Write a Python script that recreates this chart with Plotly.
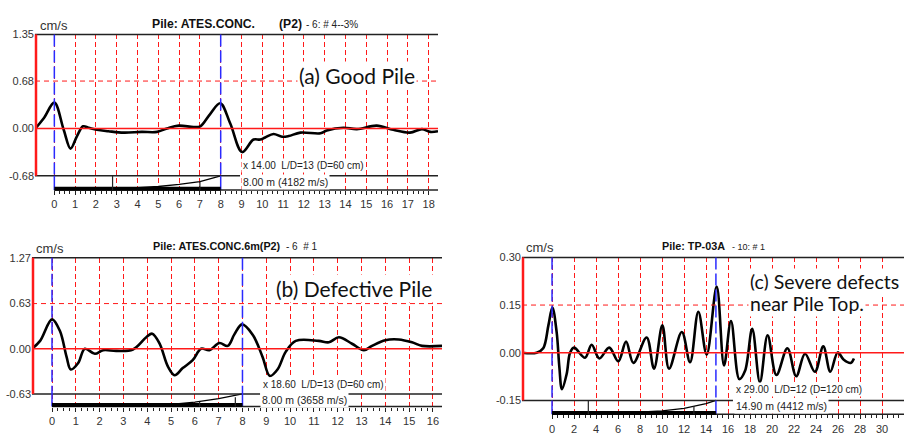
import numpy as np
import plotly.graph_objects as go

W, H = 904, 435

# ---------------- data ----------------
# (a) Good Pile : distance (m) vs velocity (cm/s)
a_dist = [-0.91, -0.5, 0.0, 0.45, 0.78, 1.09, 1.38, 1.65, 2.05, 2.6, 3.33, 4.2, 4.94,
          5.42, 5.98, 6.7, 7.02, 7.5, 7.98, 8.46, 9.03, 9.58, 9.9, 10.14, 10.54, 10.95,
          11.27, 11.83, 12.8, 13.1, 13.9, 14.55, 15.5, 16.3, 17.1, 17.68, 18.08, 18.45]
a_vel = [0.0, 0.15, 0.37, -0.02, -0.29, -0.11, 0.03, 0.01, -0.02, -0.04, -0.06, -0.05, -0.05,
         0.0, 0.04, 0.02, 0.03, 0.21, 0.36, 0.07, -0.34, -0.16, -0.16, -0.13, -0.08, -0.12,
         -0.11, -0.06, -0.07, -0.03, 0.01, -0.01, 0.04, -0.02, -0.06, -0.01, -0.05, -0.04]

# (b) Defective Pile
b_dist = [-0.84, -0.5, 0.0, 0.33, 0.61, 0.79, 1.1, 1.38, 1.8, 2.15, 2.7, 3.4, 3.96, 4.21,
          4.52, 4.87, 5.15, 5.49, 5.91, 6.26, 6.61, 7.03, 7.38, 7.66, 7.98, 8.42, 8.84,
          9.15, 9.47, 9.82, 10.24, 11.2, 11.63, 12.05, 12.6, 13.1, 13.44, 14.0, 14.56,
          15.12, 15.54, 16.38]
b_vel = [0.0, 0.11, 0.41, 0.25, -0.11, -0.29, -0.20, 0.0, -0.07, -0.02, -0.03, -0.01, 0.16,
         0.21, 0.07, -0.25, -0.37, -0.27, -0.16, 0.0, -0.02, 0.08, 0.04, 0.20, 0.34, 0.20,
         -0.11, -0.38, -0.29, -0.04, 0.11, 0.11, 0.09, 0.16, 0.07, -0.02, 0.04, 0.12, 0.13,
         0.09, 0.04, 0.04]

# (c) Severe defects near pile top
c_dist = [-2.73, -1.4, -0.8, -0.33, 0.03, 0.42, 0.67, 0.9, 1.33, 1.64, 2.0, 3.0, 3.6, 4.3,
          5.2, 6.03, 6.73, 7.4, 8.6, 9.27, 10.03, 10.64, 11.8, 12.55, 13.3, 14.06, 14.97,
          15.64, 16.27, 17.03, 17.55, 18.2, 18.9, 19.6, 20.4, 21.4, 22.2, 23.0, 23.9,
          24.66, 25.3, 25.97, 26.5, 27.15, 27.45]
c_vel = [0.0, 0.0, 0.014, 0.086, 0.142, 0.065, -0.047, -0.115, -0.067, 0.0, 0.016, -0.016,
         0.025, -0.018, 0.016, -0.027, 0.035, -0.032, 0.048, -0.05, 0.086, -0.05, 0.065,
         -0.03, 0.129, -0.006, 0.208, -0.04, 0.10, -0.083, -0.057, 0.075, -0.093, 0.055,
         -0.07, 0.014, -0.074, -0.003, -0.06, 0.02, -0.06, 0.001, -0.021, -0.032, -0.018]

# amplification curves (bottom strip)
a_amp_x = [3.2, 4.0, 5.0, 6.0, 7.0, 8.0]
a_amp_y = [-0.865, -0.853, -0.834, -0.805, -0.764, -0.68]
b_amp_x = [2.6, 4.0, 5.0, 6.0, 7.0, 8.0]
b_amp_y = [-0.80, -0.79, -0.776, -0.745, -0.695, -0.63]
c_amp_x = [4.5, 8.0, 10.0, 12.0, 14.0, 14.9]
c_amp_y = [-0.193, -0.188, -0.183, -0.175, -0.160, -0.15]

# tick labels
a_xticks = list(range(0, 19))
b_xticks = list(range(0, 17))
c_xticks = list(range(0, 33, 2))
a_yticks = [1.35, 0.68, 0.00, -0.68]
b_yticks = [1.27, 0.63, 0.00, -0.63]
c_yticks = [0.30, 0.15, 0.00, -0.15]
a_ylabels = ["1.35", "0.68", "0.00", "-0.68"]
b_ylabels = ["1.27", "0.63", "0.00", "-0.63"]
c_ylabels = ["0.30", "0.15", "0.00", "-0.15"]

# ---------------- panels ----------------
panels = [
    dict(x=a_dist, y=a_vel, px=(35, 438), py=(29, 188), xr=(-0.93, 18.45), yr=(-0.886, 1.35),
         yt=a_yticks, yl=a_ylabels, xt=a_xticks, minor=0.25, L=8.0, gap=(8.93, 13.16),
         ax=a_amp_x, ay=a_amp_y, vt=[(2.8, -0.68), (7.0, -0.764)]),
    dict(x=b_dist, y=b_vel, px=(32, 442), py=(257, 409), xr=(-0.84, 16.38), yr=(-0.806, 1.27),
         yt=b_yticks, yl=b_ylabels, xt=b_xticks, minor=0.25, L=8.0, gap=(8.74, 12.1),
         ax=b_amp_x, ay=b_amp_y, vt=[(7.7, -0.675), (6.2, -0.74)]),
    dict(x=c_dist, y=c_vel, px=(522, 904), py=(256.7, 417), xr=(-2.73, 32.0), yr=(-0.194, 0.30),
         yt=c_yticks, yl=c_ylabels, xt=c_xticks, minor=0.5, L=14.9, gap=(16.45, 23.9),
         ax=c_amp_x, ay=c_amp_y, vt=[(3.3, -0.15), (12.9, -0.168)]),
]

fig = go.Figure()
shapes = []
layout = {}
RED = "#ff1a1a"
BLUE = "#2a2aff"
INK = "#222222"

for i, p in enumerate(panels, start=1):
    sfx = "" if i == 1 else str(i)
    x0p, x1p = p["px"][0] / W, p["px"][1] / W
    y0p, y1p = 1 - p["py"][1] / H, 1 - p["py"][0] / H
    xmin, xmax = p["xr"]
    ymin, ymax = p["yr"]

    def X(v, xmin=xmin, xmax=xmax, x0p=x0p, x1p=x1p):
        return x0p + (v - xmin) / (xmax - xmin) * (x1p - x0p)

    def Y(v, ymin=ymin, ymax=ymax, y0p=y0p, y1p=y1p):
        return y0p + (v - ymin) / (ymax - ymin) * (y1p - y0p)

    ytop, ymid, _, ybot = p["yt"]

    def line(xa, ya, xb, yb, color, width, dash="solid"):
        shapes.append(dict(type="line", xref="paper", yref="paper", x0=xa, y0=ya, x1=xb, y1=yb,
                           line=dict(color=color, width=width, dash=dash), layer="above"))

    # horizontal references
    line(X(xmin), Y(ymid), X(xmax), Y(ymid), RED, 1, "5px,4px")
    line(X(xmin), Y(0), X(xmax), Y(0), RED, 1.5)
    line(X(xmin), Y(ytop), X(xmax), Y(ytop), INK, 1.5)
    line(X(xmin), Y(ybot), X(p["gap"][0]), Y(ybot), INK, 1.5)
    line(X(p["gap"][1]), Y(ybot), X(xmax), Y(ybot), INK, 1.5)
    # red vertical axis
    line(X(xmin) + 1 / W, Y(ybot), X(xmin) + 1 / W, Y(ytop), RED, 2.5)
    # blue markers at pile top and toe
    for xv in (0.0, p["L"]):
        line(X(xv), Y(ytop), X(xv), Y(ybot), BLUE, 1.5, "12px,4px")
        line(X(xv), Y(ybot), X(xv), Y(ymin), BLUE, 1.5)
    # bottom axis and thick pile bar
    line(X(0), Y(ymin), X(xmax), Y(ymin), INK, 1.5)
    line(X(0), Y(ymin) + 1.5 / H, X(p["L"]), Y(ymin) + 1.5 / H, "#000000", 4)
    # little vertical marks
    for xv, yv in p["vt"]:
        line(X(xv), Y(yv), X(xv), Y(ymin), INK, 1.2)

    fig.add_trace(go.Scatter(x=p["ax"], y=p["ay"], mode="lines", xaxis="x" + sfx, yaxis="y" + sfx,
                             line=dict(color="#000000", width=1.3), showlegend=False,
                             hoverinfo="skip"))
    fig.add_trace(go.Scatter(x=p["x"], y=p["y"], mode="lines", xaxis="x" + sfx, yaxis="y" + sfx,
                             line=dict(color="#000000", width=2.6, shape="spline", smoothing=1.0),
                             showlegend=False))

    minor_vals = [float(v) for v in np.arange(0, p["xt"][-1] + 1e-9, p["minor"])]
    layout["xaxis" + sfx] = dict(
        domain=[x0p, x1p], range=[xmin, xmax], anchor="y" + sfx,
        tickmode="array", tickvals=p["xt"], ticktext=[str(v) for v in p["xt"]],
        showgrid=True, gridcolor=RED, griddash="5px,3px", gridwidth=1,
        zeroline=False, showline=False, ticks="outside", ticklen=4, tickcolor=INK,
        tickfont=dict(family="Liberation Sans, Arial", size=11, color="#333333"),
        minor=dict(tickmode="array", tickvals=minor_vals, ticks="outside", ticklen=3,
                   tickcolor=INK, showgrid=False),
        fixedrange=True,
    )
    layout["yaxis" + sfx] = dict(
        domain=[y0p, y1p], range=[ymin, ymax], anchor="x" + sfx,
        tickmode="array", tickvals=p["yt"], ticktext=p["yl"],
        showgrid=False, zeroline=False, showline=False, ticks="",
        tickfont=dict(family="Liberation Sans, Arial", size=11, color="#333333"),
        fixedrange=True,
    )


def ann(text, px, py, size=10, xanchor="left", family="Liberation Sans, Arial",
        color="#222222", bg=None):
    d = dict(text=text, x=px / W, y=1 - py / H, xref="paper", yref="paper",
             xanchor=xanchor, yanchor="middle", showarrow=False, align="left",
             font=dict(family=family, size=size, color=color))
    if bg:
        d.update(bgcolor=bg, borderpad=1)
    return d


CAL = "Lato, Carlito, Calibri, sans-serif"
annotations = [
    # (a)
    ann("cm/s", 54, 20, 13, "center", color="#333333"),
    ann("<b>Pile: ATES.CONC.</b>", 150, 18, 12.2, color="#111111"),
    ann("<b>(P2)</b>", 277, 18, 12.2, color="#111111"),
    ann("- 6: # 4--3%", 304, 19, 10),
    ann("(a) Good Pile", 297, 71, 21, family=CAL, color="#111111", bg="white"),
    ann("x 14.00&nbsp; L/D=13 (D=60 cm)", 241, 163, 10, bg="white"),
    ann("8.00 m (4182 m/s)", 241, 180, 10.5, bg="white"),
    # (b)
    ann("cm/s", 50, 248, 13, "center", color="#333333"),
    ann("<b>Pile: ATES.CONC.6m(P2)</b>", 151, 245, 10.8, color="#111111"),
    ann("- 6&nbsp; # 1", 284, 246, 10),
    ann("(b) Defective Pile", 274, 288, 21, family=CAL, color="#111111", bg="white"),
    ann("x 18.60&nbsp; L/D=13 (D=60 cm)", 261, 387, 10, bg="white"),
    ann("8.00 m (3658 m/s)", 260, 402, 10.5, bg="white"),
    # (c)
    ann("(c) Severe defects", 748, 281, 19.5, family=CAL, color="#111111", bg="white"),
    ann("near Pile Top.", 748, 304, 19.5, family=CAL, color="#111111", bg="white"),
    ann("cm/s", 540, 247, 13, "center", color="#333333"),
    ann("<b>Pile: TP-03A</b>", 660, 245, 10.8, color="#111111"),
    ann("- 10: # 1", 730, 246, 9),
    ann("x 29.00&nbsp; L/D=12 (D=120 cm)", 734, 392, 10, bg="white"),
    ann("14.90 m (4412 m/s)", 734, 408, 10.5, bg="white"),
]

fig.update_layout(
    width=W, height=H, margin=dict(l=0, r=0, t=0, b=0),
    paper_bgcolor="white", plot_bgcolor="white",
    shapes=shapes, annotations=annotations, showlegend=False,
    **layout,
)

fig.write_html("out.html", config={"displayModeBar": False},
               post_script="document.body.style.margin='0';document.body.style.overflow='hidden';")
